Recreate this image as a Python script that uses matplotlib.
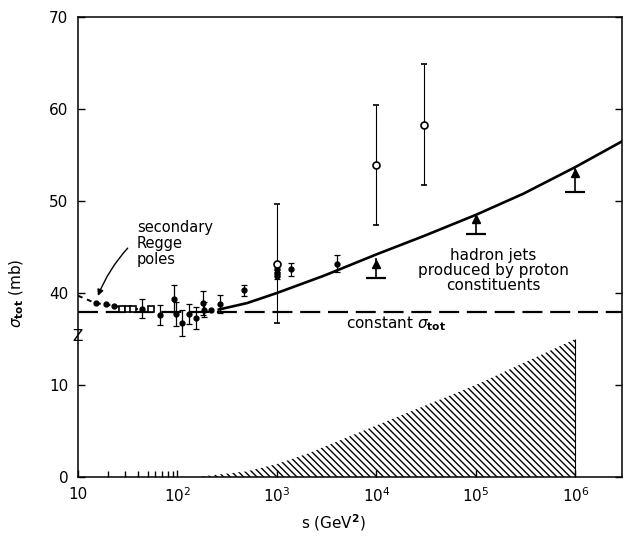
import numpy as np
import matplotlib
matplotlib.use("Agg")
import matplotlib.pyplot as plt

# upper panel values in mb are drawn 20 mb lower (axis is broken between 10 and 40)
OFFSET = 20

# secondary Regge pole curve (dashed, low s)
regge_s = [10, 15, 19, 23, 30, 40]
regge_sig = [39.7, 38.9, 38.75, 38.6, 38.35, 38.25]

# constant sigma_tot line
const_sig = 37.9

# hadron jets curve
jets_s = [260, 500, 1000, 3000, 10000, 30000, 100000, 300000, 1000000, 2950000]
jets_sig = [38.2, 38.9, 40.0, 41.9, 44.2, 46.2, 48.5, 50.8, 53.7, 56.5]

# data points, filled, with errors
pts_s = [44, 66, 92, 97, 112, 132, 155, 182, 186, 270, 470, 1000, 1000, 1000, 1400, 4000]
pts_sig = [38.3, 37.6, 39.4, 37.7, 36.7, 37.7, 37.3, 38.9, 38.2, 38.8, 40.3, 42.6, 42.2, 41.8, 42.6, 43.2]
pts_err = [1.0, 1.1, 1.5, 1.3, 1.4, 1.1, 1.2, 1.3, 0.8, 1.0, 0.6, 0.3, 0.3, 0.3, 0.7, 0.9]

# points without error bars
dot_s = [15, 19, 23, 215]
dot_sig = [38.9, 38.75, 38.6, 38.1]
sq_s = [28, 32, 36, 54]
sq_sig = [38.3, 38.3, 38.3, 38.3]

# open circles with large errors (cosmic ray)
oc_s = [1000, 10000, 30000]
oc_sig = [43.2, 53.9, 58.3]
oc_lo = [36.7, 47.4, 51.7]
oc_hi = [49.7, 60.4, 64.9]

# lower limits
ll_s = [10000, 100000, 1000000]
ll_tip = [43.8, 48.6, 53.6]
ll_bar = [41.6, 46.4, 51.0]

# hatched region (lower scale)
hatch_s = [160, 500, 1000, 2000, 10000, 100000, 1000000]
hatch_v = [0, 0.6, 1.4, 2.5, 5.6, 10.0, 15.0]

ytick_pos = [0, 10, 20, 30, 40, 50]
ytick_lab = ["0", "10", "40", "50", "60", "70"]
xtick_pos = [10, 1e2, 1e3, 1e4, 1e5, 1e6]
xtick_lab = ["10", "$10^2$", "$10^3$", "$10^4$", "$10^5$", "$10^6$"]

def up(v):
    return np.asarray(v) - OFFSET

fig = plt.figure(figsize=(6.24, 5.37), dpi=100)
ax = fig.add_axes([0.125, 0.112, 0.872, 0.856])
ax.set_xscale("log")
ax.set_xlim(10, 2.95e6)
ax.set_ylim(0, 50)

# hatch
ax.fill_between(hatch_s, 0, hatch_v, facecolor="none", edgecolor="black",
                hatch="\\" * 5, linewidth=0)
ax.vlines(hatch_s[-1], 0, hatch_v[-1], color="black", lw=0.8)

ax.axhline(up(const_sig), color="black", lw=1.6, dashes=(9, 3.5))
ax.plot(regge_s, up(regge_sig), color="black", lw=1.4, dashes=(2.5, 2.5))
ax.plot(jets_s, up(jets_sig), color="black", lw=1.9)

ax.errorbar(pts_s, up(pts_sig), yerr=pts_err, fmt="o", ms=3.5, color="black",
            ecolor="black", elinewidth=0.9, capsize=2.5, capthick=0.9)
ax.plot(dot_s, up(dot_sig), "o", ms=3.5, color="black")
ax.plot(sq_s, up(sq_sig), "s", ms=4, mfc="white", mec="black", mew=1.2)

oc_y = up(oc_sig)
ax.errorbar(oc_s, oc_y, yerr=[oc_y - up(oc_lo), up(oc_hi) - oc_y], fmt="o", ms=5,
            mfc="white", mec="black", mew=1.2, ecolor="black", elinewidth=0.8,
            capsize=2, capthick=0.8, zorder=4)

ax.vlines(ll_s, up(ll_bar), up(ll_tip), color="black", lw=1.2)
ax.plot(ll_s, up(ll_bar), "_", ms=14, mew=1.6, color="black")
ax.plot(ll_s, up(ll_tip) - 0.6, "^", ms=6, color="black")

# labels in the plot
ax.text(39, up(47.9), "secondary\nRegge\npoles", fontsize=10.5, va="top",
        linespacing=1.05)
ax.annotate("", xy=(15.5, up(39.4)), xytext=(33, up(45.1)),
            arrowprops=dict(arrowstyle="-|>", color="black", lw=1,
                            connectionstyle="arc3,rad=0.1", mutation_scale=9))
ax.text(1.5e5, up(42.4), "hadron jets\nproduced by proton\nconstituents",
        fontsize=11, ha="center", va="center", linespacing=1.0)
ax.text(5e3, up(36.7), r"constant $\sigma_{\mathbf{tot}}$", fontsize=11,
        va="center")
ax.text(10, 15.3, "Z", fontsize=11, ha="center", va="center")

ax.set_yticks(ytick_pos)
ax.set_yticklabels(ytick_lab)
ax.set_xticks(xtick_pos)
ax.set_xticklabels(xtick_lab)
ax.set_xticks([20, 30, 40, 50, 60, 70, 80, 90], minor=True)
ax.tick_params(axis="both", which="major", direction="in", length=5, width=1,
               labelsize=11, pad=7, right=True)
ax.tick_params(axis="x", which="minor", direction="in", length=4, width=1)
for sp in ax.spines.values():
    sp.set_linewidth(1.1)

ax.set_ylabel(r"$\sigma_{\mathbf{tot}}$ (mb)", fontsize=11, labelpad=4)
ax.yaxis.set_label_coords(-0.095, 0.40)
ax.set_xlabel(r"s (GeV$^{\mathbf{2}}$)", fontsize=11)
ax.xaxis.set_label_coords(0.47, -0.078)

fig.savefig("out.png", dpi=100)
